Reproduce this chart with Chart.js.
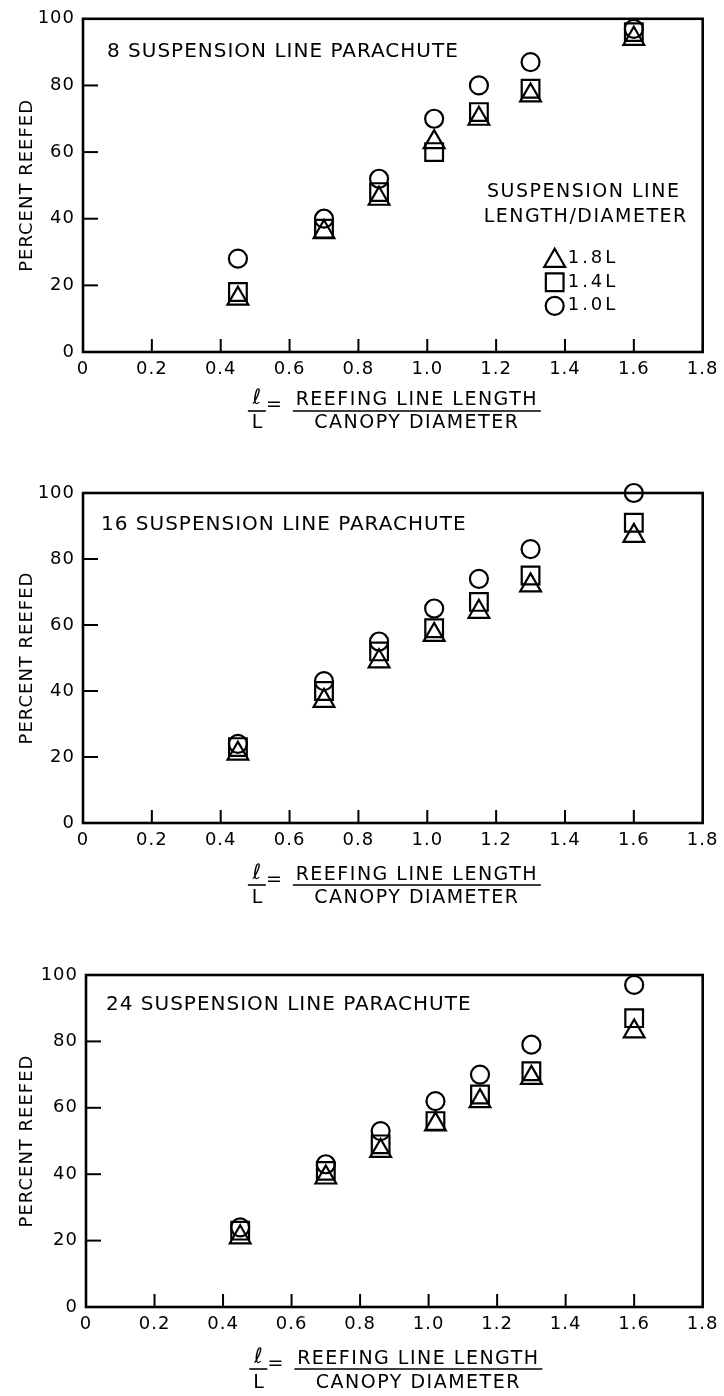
<!DOCTYPE html>
<html>
<head>
<meta charset="utf-8">
<title>Percent reefed vs reefing line length</title>
<script src="https://cdn.jsdelivr.net/npm/chart.js@4.4.1/dist/chart.umd.min.js"></script>
<style>
  html, body { margin: 0; padding: 0; background: #fff; }
  #page { position: relative; width: 724px; height: 1396px; overflow: hidden; background: #fff; }
  .panel { position: absolute; left: 0; width: 724px; }
  .panel canvas { display: block; }
</style>
</head>
<body>
<div id="page">
  <div class="panel" style="top:0px"><canvas id="chart8" width="724" height="440"></canvas></div>
  <div class="panel" style="top:460px"><canvas id="chart16" width="724" height="470"></canvas></div>
  <div class="panel" style="top:940px"><canvas id="chart24" width="724" height="456"></canvas></div>
</div>
<script>
// l/L values where the reefing tests were run
const reefRatio = [0.45, 0.70, 0.86, 1.02, 1.15, 1.30, 1.60];

const xTickLabels = ['0', '0.2', '0.4', '0.6', '0.8', '1.0', '1.2', '1.4', '1.6', '1.8'];
const yTickLabels = ['0', '20', '40', '60', '80', '100'];

// suspension line length / diameter
const lineLengths = ['1.8L', '1.4L', '1.0L'];

// percent reefed, 8 suspension lines
const reefed8_18 = [16, 36, 46, 63, 70, 77, 94];
const reefed8_14 = [18, 37, 48, 60, 72, 79, 96];
const reefed8_10 = [28, 40, 52, 70, 80, 87, 97];

// 16 suspension lines
const reefed16_18 = [21, 37, 49, 57, 64, 72, 87];
const reefed16_14 = [23, 40, 52, 59, 67, 75, 91];
const reefed16_10 = [24, 43, 55, 65, 74, 83, 100];

// 24 suspension lines
const reefed24_18 = [21, 39, 47, 55, 62, 69, 83];
const reefed24_14 = [23, 41, 49, 56, 64, 71, 87];
const reefed24_10 = [24, 43, 53, 62, 70, 79, 97];

const FONT = '"DejaVu Sans", "Liberation Sans", sans-serif';
const markers = [
    { pointStyle: 'triangle', radius: 12 },
    { pointStyle: 'rect', radius: 12.5 },
    { pointStyle: 'circle', radius: 9 }
];

const panels = [
    { id: 'chart8', title: '8 SUSPENSION LINE PARACHUTE', height: 440,
      area: { top: 17, bottom: 352, left: 83, right: 707 }, titleOffset: [24, 33],
      fraction: [48, 59, 71], series: [reefed8_18, reefed8_14, reefed8_10], legend: true },
    { id: 'chart16', title: '16 SUSPENSION LINE PARACHUTE', height: 470,
      area: { top: 33, bottom: 363, left: 83, right: 707 }, titleOffset: [18, 32],
      fraction: [52, 62, 75], series: [reefed16_18, reefed16_14, reefed16_10], legend: false },
    { id: 'chart24', title: '24 SUSPENSION LINE PARACHUTE', height: 456,
      area: { top: 35, bottom: 367, left: 86, right: 710 }, titleOffset: [20, 30],
      fraction: [52, 62, 76], series: [reefed24_18, reefed24_14, reefed24_10], legend: false }
];

function strokeLine(ctx, x1, y1, x2, y2) {
    ctx.beginPath();
    ctx.moveTo(x1, y1);
    ctx.lineTo(x2, y2);
    ctx.stroke();
}

function drawMarker(ctx, marker, x, y) {
    ctx.save();
    ctx.strokeStyle = '#000';
    ctx.fillStyle = 'rgba(0,0,0,0)';
    ctx.lineWidth = 2.2;
    Chart.helpers.drawPoint(ctx, { pointStyle: marker.pointStyle, radius: marker.radius, borderWidth: 2.2, rotation: 0 }, x, y);
    ctx.restore();
}

// frame, inward tick marks, panel caption, legend and the l/L fraction
const framePlugin = {
    id: 'frame',
    beforeDraw(chart) {
        chart.ctx.letterSpacing = '1px';
    },
    afterDraw(chart, args, opts) {
        const ctx = chart.ctx;
        const a = chart.chartArea;
        const xs = chart.scales.x;
        const ys = chart.scales.y;
        ctx.save();
        ctx.strokeStyle = '#000';
        ctx.fillStyle = '#000';

        ctx.lineWidth = 2;
        for (let i = 1; i < xTickLabels.length - 1; i++) {
            const px = xs.getPixelForValue(parseFloat(xTickLabels[i]));
            strokeLine(ctx, px, a.bottom, px, a.bottom - 13);
        }
        for (let i = 1; i < yTickLabels.length - 1; i++) {
            const py = ys.getPixelForValue(parseFloat(yTickLabels[i]));
            strokeLine(ctx, a.left, py, a.left + 15, py);
        }
        ctx.lineWidth = 2.6;
        ctx.strokeRect(a.left, a.top, a.right - a.left, a.bottom - a.top);

        ctx.textBaseline = 'middle';
        ctx.textAlign = 'left';
        ctx.font = '20px ' + FONT;
        ctx.letterSpacing = '1px';
        ctx.fillText(opts.title, a.left + opts.titleOffset[0], a.top + opts.titleOffset[1]);

        if (opts.legend) {
            ctx.font = '19px ' + FONT;
            ctx.letterSpacing = '1.5px';
            ctx.textAlign = 'center';
            ctx.fillText('SUSPENSION LINE', a.right - 119, a.top + 173);
            ctx.fillText('LENGTH/DIAMETER', a.right - 117, a.top + 198);
            ctx.textAlign = 'left';
            ctx.font = '18px ' + FONT;
            ctx.letterSpacing = '3px';
            lineLengths.forEach((lbl, i) => {
                const y = a.top + 240 + i * 23.5;
                drawMarker(ctx, markers[i], a.right - 148, y + (i === 0 ? 2 : 0));
                ctx.fillText(lbl, a.right - 135, y);
            });
        }

        // x-axis caption written as a fraction
        const cx = (a.left + a.right) / 2;
        const yNum = a.bottom + opts.fraction[0];
        const yBar = a.bottom + opts.fraction[1];
        const yDen = a.bottom + opts.fraction[2];
        ctx.textAlign = 'center';
        ctx.font = '19px ' + FONT;
        ctx.letterSpacing = '1.5px';
        ctx.fillText('REEFING LINE LENGTH', cx + 24, yNum);
        ctx.fillText('CANOPY DIAMETER', cx + 24, yDen);
        ctx.fillText('L', cx - 135, yDen);
        ctx.letterSpacing = '0px';
        ctx.fillText('=', cx - 119, yNum + 5);
        ctx.font = 'italic 21px ' + FONT;
        ctx.fillText('\u2113', cx - 136, yNum - 1);
        ctx.lineWidth = 1.6;
        strokeLine(ctx, cx - 100, yBar, cx + 148, yBar);
        strokeLine(ctx, cx - 145, yBar, cx - 127, yBar);
        ctx.restore();
    }
};

function makeChart(panel) {
    const ctx = document.getElementById(panel.id).getContext('2d');
    const a = panel.area;
    return new Chart(ctx, {
        type: 'scatter',
        data: {
            datasets: panel.series.map((vals, i) => ({
                label: lineLengths[i],
                data: reefRatio.map((x, j) => ({ x: x, y: vals[j] })),
                pointStyle: markers[i].pointStyle,
                pointRadius: markers[i].radius,
                pointHoverRadius: markers[i].radius,
                pointBorderWidth: 2.2,
                pointBorderColor: '#000',
                pointBackgroundColor: 'rgba(0,0,0,0)',
                clip: false
            }))
        },
        options: {
            responsive: false,
            animation: false,
            events: [],
            layout: { padding: { top: a.top, right: 724 - a.right, bottom: 0, left: 0 } },
            scales: {
                x: {
                    type: 'linear',
                    min: 0,
                    max: 1.8,
                    afterFit: (scale) => { scale.height = panel.height - a.bottom; },
                    grid: { display: false, drawTicks: false },
                    border: { display: false },
                    ticks: {
                        stepSize: 0.2,
                        padding: 7,
                        color: '#000',
                        font: { family: FONT, size: 18 },
                        callback: (v) => xTickLabels[Math.round(v / 0.2)]
                    }
                },
                y: {
                    min: 0,
                    max: 100,
                    afterFit: (scale) => { scale.width = a.left; },
                    grid: { display: false, drawTicks: false },
                    border: { display: false },
                    ticks: {
                        stepSize: 20,
                        padding: 8,
                        color: '#000',
                        font: { family: FONT, size: 18 },
                        callback: (v) => yTickLabels[Math.round(v / 20)]
                    },
                    title: {
                        display: true,
                        text: 'PERCENT REEFED',
                        color: '#000',
                        font: { family: FONT, size: 18 },
                        padding: { top: 17, bottom: 0 }
                    }
                }
            },
            plugins: {
                legend: { display: false },
                tooltip: { enabled: false },
                frame: {
                    title: panel.title,
                    titleOffset: panel.titleOffset,
                    fraction: panel.fraction,
                    legend: panel.legend
                }
            }
        },
        plugins: [framePlugin]
    });
}

panels.forEach(makeChart);
</script>
</body>
</html>
